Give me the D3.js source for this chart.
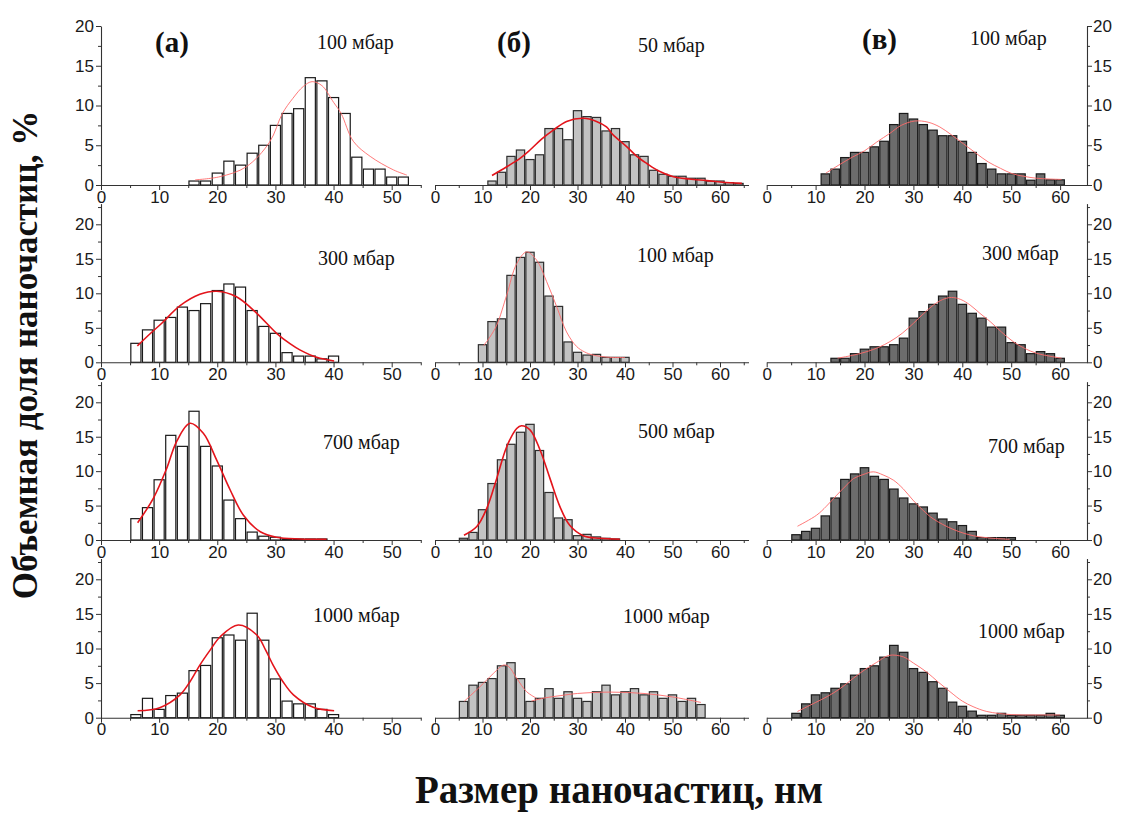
<!DOCTYPE html>
<html><head><meta charset="utf-8">
<script src="https://cdn.jsdelivr.net/npm/d3@7"></script>
<style>body{margin:0;background:#fff}svg{display:block}</style>
</head><body><svg id="c" width="1123" height="825"></svg>
<script>
// ---------- data ----------
const yTitle = "Объемная доля наночастиц, %";
const xTitle = "Размер наночастиц, нм";
const panelLetters = ["(а)", "(б)", "(в)"];
const pressureLabels = [
  ["100 мбар", "50 мбар", "100 мбар"],
  ["300 мбар", "100 мбар", "300 мбар"],
  ["700 мбар", "500 мбар", "700 мбар"],
  ["1000 мбар", "1000 мбар", "1000 мбар"]
];
const xTicksA = [0, 10, 20, 30, 40, 50];
const xMinorA = [5, 15, 25, 35, 45, 55];
const xTicksBC = [0, 10, 20, 30, 40, 50, 60];
const xMinorBC = [5, 15, 25, 35, 45, 55, 65];
const yTicks = [0, 5, 10, 15, 20];
const yMinor = [2.5, 7.5, 12.5, 17.5, 22.5];

// column (а)
const binsA1 = [16,18,20,22,24,26,28,30,32,34,36,38,40,42,44,46,48,50,52];
const valsA1 = [0.5,0.5,1.5,3.0,2.5,4.0,5.0,7.5,9.0,9.6,13.5,13.1,11.0,9.0,3.5,2.0,2.0,1.0,1.0];
const fitA1 = [[16.2,0.65],[20.5,1.05],[25,2.3],[29,5.4],[31.2,9.0],[33,10.9],[34.8,12.4],[36.3,13.0],[38,12.5],[40,10.4],[41.3,9.0],[43.4,5.5],[46.3,3.6],[50.3,1.9],[52.6,1.25]];

const binsA2 = [6,8,10,12,14,16,18,20,22,24,26,28,30,32,34,36,38,40];
const valsA2 = [2.75,4.7,6.1,6.5,8.0,7.5,8.5,10.4,11.35,10.9,7.5,5.2,4.2,1.4,0.9,0.9,0.5,0.9];
const fitA2 = [[6.25,2.37],[8.4,4.1],[10.5,5.7],[13.6,8.2],[17,9.85],[19.9,10.3],[23.3,9.5],[26.8,7.1],[30.2,4.2],[32.5,2.7],[34.2,1.8],[37.1,0.72],[40.1,0.2]];

const binsA3 = [6,8,10,12,14,16,18,20,22,24,26,28,30,32,34,36,38];
const valsA3 = [3.1,4.7,8.75,15.2,13.6,18.7,13.6,10.75,5.8,3.1,1.15,0.55,0.4,0.15,0.15,0.15,0.15];
const fitA3 = [[6.3,2.5],[9,6.05],[11.3,10.4],[13,14.3],[15.3,16.95],[17.6,15.5],[19.9,11.6],[22.2,7.3],[24.5,3.6],[27.4,1.2],[30.2,0.4],[34.2,0.15],[38.8,0.1]];

const binsA4 = [6,8,10,12,14,16,18,20,22,24,26,28,30,32,34,36,38,40];
const valsA4 = [0.45,2.8,1.2,3.2,3.55,6.8,7.55,11.55,11.95,11.2,15.1,11.2,5.6,2.4,2.0,2.0,1.2,0.45];
const fitA4 = [[6.3,1.0],[10.1,1.45],[13.6,3.3],[15.3,5.2],[17,7.6],[18.8,9.8],[20.5,11.7],[23.6,13.4],[26.8,11.95],[28.3,9.8],[29.6,7.6],[31.3,5.2],[33.1,3.3],[36.5,1.5],[40.1,1.0]];

// column (б)
const binsB1 = [12,14,16,18,20,22,24,26,28,30,32,34,36,38,40,42,44,46,48,50,52,54,56,58,60,62,64];
const valsB1 = [0.5,1.6,3.6,4.4,3.2,3.8,7.1,7.1,5.7,9.35,8.6,8.5,6.8,7.1,5.45,3.8,3.6,1.85,1.35,1.1,1.1,0.85,0.85,0.5,0.5,0.3,0.2];
const fitB1 = [[12,1.2],[15.1,2.3],[17.9,3.35],[20,4.4],[22.5,5.8],[24.9,6.9],[27.7,8.0],[31.2,8.4],[34,8.0],[36.1,7.3],[37.5,6.3],[40.4,4.8],[42.5,3.6],[44.6,2.7],[47,1.8],[50.2,1.05],[53.5,0.75],[57.2,0.55],[60.5,0.35],[64.6,0.2]];

const binsB2 = [10,12,14,16,18,20,22,24,26,28,30,32,34,36,38,40];
const valsB2 = [2.55,5.9,6.3,12.6,15.2,15.95,14.5,9.6,8.1,2.95,1.45,1.05,1.15,0.72,0.72,0.72];
const fitB2 = [[10.2,2.4],[11.5,3.6],[13,5.4],[15.1,9.75],[17.2,14.3],[19.3,16.0],[21.4,14.8],[23.5,11.7],[25.6,8.1],[27.7,4.4],[29.8,2.3],[31.5,1.5],[33.3,1.05],[36.8,0.72],[40,0.7]];

const binsB3 = [6,8,10,12,14,16,18,20,22,24,26,28,30,32,34,36,38];
const valsB3 = [0.25,1.1,4.4,8.2,11.65,13.9,15.65,16.8,13.0,6.9,3.2,2.95,0.63,0.82,0.45,0.25,0.15];
const fitB3 = [[6.1,0.68],[8.8,1.95],[10.9,4.6],[13,8.95],[15.1,13.55],[17.2,16.2],[18.2,16.6],[20,16.0],[22.1,13.1],[24.2,8.95],[26.3,4.85],[28.4,2.1],[31.2,0.63],[34.7,0.25],[38.9,0.1]];

const binsB4 = [6,8,10,12,14,16,18,20,22,24,26,28,30,32,34,36,38,40,42,44,46,48,50,52,54,56];
const valsB4 = [2.35,4.7,5.1,5.65,7.5,7.95,5.65,2.35,2.8,4.2,2.8,3.75,2.8,2.35,3.75,4.7,3.3,3.75,4.2,3.3,3.75,2.8,3.3,2.35,2.8,1.9];
const fitB4a = [[6.2,2.4],[9.5,4.5],[12.3,6.4],[14.4,7.6],[15.5,7.4],[17.2,5.7],[19.3,3.75],[21.4,2.8]];
const fitB4b = [[20.3,2.4],[23,2.85],[26.5,3.2],[30,3.5],[37,3.7],[44,3.5],[50,3.0],[56,2.2]];

// column (в)
const binsC1 = [12,14,16,18,20,22,24,26,28,30,32,34,36,38,40,42,44,46,48,50,52,54,56,58,60];
const valsC1 = [1.4,2.0,3.45,4.1,4.1,4.8,5.5,7.6,9.0,8.3,7.6,6.9,6.2,6.2,5.5,4.1,2.7,2.0,1.4,1.4,1.4,0.6,1.4,0.65,0.65];
const fitC1 = [[12.1,1.5],[15,2.6],[17.5,3.5],[20,4.3],[22.5,5.4],[25.2,6.5],[27.5,7.5],[30.3,8.05],[33,7.9],[35.4,7.3],[37.8,6.3],[40.2,5.2],[42.8,4.0],[45.3,2.9],[47.8,2.1],[50.1,1.45],[52.5,1.1],[55.2,0.85],[58,0.75],[60.3,0.7]];

const binsC2 = [14,16,18,20,22,24,26,28,30,32,34,36,38,40,42,44,46,48,50,52,54,56,58,60];
const valsC2 = [0.58,0.58,1.25,1.9,2.25,2.25,2.55,3.5,6.4,7.35,8.4,9.6,10.3,8.4,7.1,6.4,5.1,5.1,2.85,2.55,1.25,1.55,1.25,0.58];
const fitC2 = [[14.5,0.6],[17.5,1.0],[20.5,1.55],[23,2.2],[25.2,3.0],[27.7,4.2],[30,5.65],[32,7.0],[34.1,8.3],[36,9.1],[37.8,9.4],[39.7,9.1],[41.6,8.3],[43.6,7.1],[45.7,5.9],[48,4.4],[50.4,3.0],[52.8,2.0],[55.2,1.3],[57.8,0.9],[60.3,0.6]];

const binsC3 = [6,8,10,12,14,16,18,20,22,24,26,28,30,32,34,36,38,40,42,44,46,48,50];
const valsC3 = [0.77,1.25,1.7,3.5,6.1,8.8,9.6,10.5,9.25,8.8,7.4,6.1,5.25,4.8,3.9,3.05,2.65,2.1,1.25,0.35,0.35,0.35,0.35];
const fitC3 = [[6.3,2.0],[10.2,3.6],[12.2,4.9],[14.3,6.5],[16.3,7.95],[17.7,8.9],[19.7,9.5],[21.8,9.9],[23.8,9.45],[25.9,8.7],[27.9,7.45],[29.9,5.8],[32,4.3],[34,3.1],[38.1,1.55],[42.2,0.63],[46.3,0.25],[49.7,0.1]];

const binsC4 = [6,8,10,12,14,16,18,20,22,24,26,28,30,32,34,36,38,40,42,44,46,48,50,52,54,56,58,60];
const valsC4 = [0.63,2.0,3.3,3.6,4.25,4.9,6.15,7.1,7.5,8.75,10.45,9.45,7.1,6.55,5.2,4.25,2.25,1.65,0.95,0.35,0.35,0.63,0.35,0.35,0.35,0.35,0.63,0.35];
const fitC4 = [[6.3,0.9],[10,2.2],[12.5,3.1],[15,4.2],[17.7,5.7],[20,6.9],[22.5,8.0],[25,9.0],[27.9,8.8],[30,7.9],[32.7,6.6],[35,5.2],[37.5,3.75],[40,2.4],[42.2,1.6],[45,0.9],[50,0.45],[55,0.4],[60,0.4]];

// ---------- layout ----------
const cols = [
  {x0:101,   k:5.814, dom:[0,55],   major:xTicksA,  minor:xMinorA, yAxis:"left",  fill:"#ffffff", stroke:"#1a1a1a"},
  {x0:435,   k:4.75,  dom:[0,66],   major:xTicksBC, minor:xMinorBC, yAxis:null,   fill:"#c3c3c3", stroke:"#2e2e2e"},
  {x0:766.7, k:4.89,  dom:[0,65.5], major:xTicksBC, minor:xMinorBC.slice(0,6), yAxis:"right", fill:"#6c6c6c", stroke:"#1a1a1a"}
];
const rows = [
  {y0:185,   k:7.95,  top:20},
  {y0:362.3, k:6.9,   top:23},
  {y0:540,   k:6.885, top:23},
  {y0:717.7, k:6.92,  top:23}
];
const BOLD = {stroke:"#e3141b", width:1.6};
const THIN = {stroke:"#ff6a6a", width:0.9};
const panels = [
  {r:0,c:0,bins:binsA1,vals:valsA1,fits:[fitA1],style:THIN, tx:317, ty:49},
  {r:1,c:0,bins:binsA2,vals:valsA2,fits:[fitA2],style:BOLD, tx:318, ty:265},
  {r:2,c:0,bins:binsA3,vals:valsA3,fits:[fitA3],style:BOLD, tx:323, ty:449},
  {r:3,c:0,bins:binsA4,vals:valsA4,fits:[fitA4],style:BOLD, tx:313, ty:622},
  {r:0,c:1,bins:binsB1,vals:valsB1,fits:[fitB1],style:BOLD, tx:638, ty:52},
  {r:1,c:1,bins:binsB2,vals:valsB2,fits:[fitB2],style:THIN, tx:637, ty:262},
  {r:2,c:1,bins:binsB3,vals:valsB3,fits:[fitB3],style:BOLD, tx:638, ty:438},
  {r:3,c:1,bins:binsB4,vals:valsB4,fits:[fitB4a,fitB4b],style:THIN, tx:623, ty:623},
  {r:0,c:2,bins:binsC1,vals:valsC1,fits:[fitC1],style:THIN, tx:970, ty:45},
  {r:1,c:2,bins:binsC2,vals:valsC2,fits:[fitC2],style:THIN, tx:982, ty:260},
  {r:2,c:2,bins:binsC3,vals:valsC3,fits:[fitC3],style:THIN, tx:988, ty:453},
  {r:3,c:2,bins:binsC4,vals:valsC4,fits:[fitC4],style:THIN, tx:978, ty:638}
];
const letterPos = [{x:155,y:52},{x:497,y:52},{x:862,y:49}];

const SANS = "'Liberation Sans', Arial, sans-serif";
const SERIF = "'Liberation Serif', 'Times New Roman', serif";
const svg = d3.select("#c");
const HALF = 0.87;

panels.forEach(p => {
  const C = cols[p.c], R = rows[p.r];
  const x = d3.scaleLinear().domain(C.dom).range([C.x0, C.x0 + (C.dom[1]-C.dom[0]) * C.k]);
  const y = d3.scaleLinear().domain([0, R.top]).range([R.y0, R.y0 - R.top * R.k]);
  const g = svg.append("g");

  // bars
  g.selectAll("rect.bar").data(p.bins.map((b,i) => ({b, v:p.vals[i]}))).join("rect")
    .attr("x", d => x(d.b - HALF))
    .attr("width", d => x(d.b + HALF) - x(d.b - HALF))
    .attr("y", d => y(d.v))
    .attr("height", d => y(0) - y(d.v))
    .attr("fill", C.fill).attr("stroke", C.stroke).attr("stroke-width", 1.2);

  // fit curves
  const line = d3.line().x(d => x(d[0])).y(d => y(d[1])).curve(d3.curveCatmullRom.alpha(0.5));
  p.fits.forEach(f => g.append("path").attr("d", line(f)).attr("fill","none")
    .attr("stroke", p.style.stroke).attr("stroke-width", p.style.width));

  // x axis
  const ax = g.append("g").attr("transform", `translate(0,${R.y0})`);
  ax.call(d3.axisBottom(x).tickValues(C.major).tickSize(5).tickSizeOuter(0).tickFormat(d3.format("d")));
  ax.append("g").call(d3.axisBottom(x).tickValues(C.minor).tickSize(3).tickFormat(""))
    .select(".domain").remove();
  ax.selectAll("path.domain").attr("stroke","#333").attr("stroke-width",1.1);
  ax.selectAll("line").attr("stroke","#333");
  ax.selectAll("text").attr("font-family", SANS).attr("font-size", 17).attr("fill","#1a1a1a").attr("dy","0.62em").attr("y",7);

  // y axis
  if (C.yAxis) {
    const xp = C.yAxis === "left" ? x.range()[0] : x.range()[1];
    const mk = C.yAxis === "left" ? d3.axisLeft : d3.axisRight;
    const ay = g.append("g").attr("transform", `translate(${xp},0)`);
    ay.call(mk(y).tickValues(yTicks).tickSize(5).tickSizeOuter(0).tickFormat(d3.format("d")));
    ay.append("g").call(mk(y).tickValues(yMinor.filter(v => v <= R.top)).tickSize(3).tickFormat(""))
      .select(".domain").remove();
    ay.selectAll("path.domain").attr("stroke","#333").attr("stroke-width",1.1);
    ay.selectAll("line").attr("stroke","#333");
    ay.selectAll("text").attr("font-family", SANS).attr("font-size", 17).attr("fill","#1a1a1a")
      .attr("x", C.yAxis === "left" ? -7 : 6);
  }

  // pressure label
  svg.append("text").attr("x", p.tx).attr("y", p.ty)
    .attr("font-family", SERIF).attr("font-size", 20).attr("fill","#111")
    .text(pressureLabels[p.r][p.c]);
});

panelLetters.forEach((t,i) => svg.append("text").attr("x", letterPos[i].x).attr("y", letterPos[i].y)
  .attr("font-family", SERIF).attr("font-weight","bold").attr("font-size", 29).attr("fill","#111").text(t));

svg.append("text").attr("transform","translate(37,355) rotate(-90)").attr("text-anchor","middle")
  .attr("font-family", SERIF).attr("font-weight","bold").attr("font-size", 35).attr("fill","#111").text(yTitle);
svg.append("text").attr("x", 619).attr("y", 803).attr("text-anchor","middle")
  .attr("font-family", SERIF).attr("font-weight","bold").attr("font-size", 39).attr("fill","#111").text(xTitle);
</script></body></html>
